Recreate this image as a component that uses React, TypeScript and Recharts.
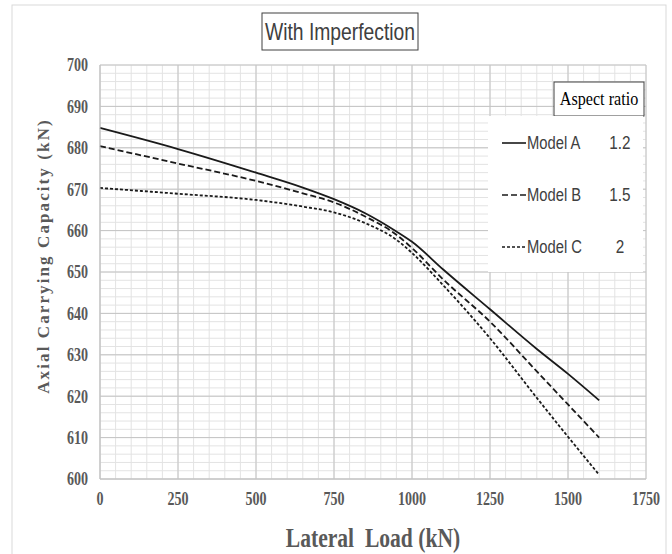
import React from "react";
import { LineChart, Line, XAxis, YAxis, CartesianGrid, Legend, Customized } from "recharts";

const loads = [0, 250, 500, 650, 750, 850, 950, 1000, 1100, 1250, 1400, 1500, 1600];
const modelA = [684.8, 679.7, 674.0, 670.4, 667.6, 664.2, 659.8, 657.3, 650.6, 641.0, 631.4, 625.4, 619.0];
const modelB = [680.4, 676.2, 672.0, 669.0, 666.8, 663.4, 659.0, 655.8, 648.2, 638.0, 626.0, 618.0, 610.0];
const modelC = [670.3, 668.9, 667.4, 665.8, 664.4, 661.8, 657.8, 654.6, 646.8, 634.0, 619.6, 610.2, 601.0];

const seriesNames = ["Model A", "Model B", "Model C"];
const aspectRatios = ["1.2", "1.5", "2"];
const dashes = ["", "6 3", "3 2"];

const xTicks = [0, 250, 500, 750, 1000, 1250, 1500, 1750];
const yTicks = [600, 610, 620, 630, 640, 650, 660, 670, 680, 690, 700];
const xDomain = [0, 1750];
const yDomain = [600, 700];
const xMinorStep = 50;
const yMinorStep = 2;

const data = loads.map((l, i) => ({
  load: l,
  a: modelA[i],
  b: modelB[i],
  c: modelC[i],
}));
const keys = ["a", "b", "c"];

const range = (lo: number, hi: number, step: number) => {
  const out: number[] = [];
  for (let v = lo; v <= hi + 1e-9; v += step) out.push(v);
  return out;
};

const serif = "'Liberation Serif', 'Times New Roman', serif";
const narrow = "'Liberation Sans Narrow', 'Arial Narrow', 'Liberation Sans', sans-serif";

const makeVGen = (vals: number[]) => (args: any) => {
  const { xAxis, offset } = args;
  return vals.map((v) =>
    xAxis && typeof xAxis.scale === "function"
      ? xAxis.scale(v)
      : offset.left + ((v - xDomain[0]) / (xDomain[1] - xDomain[0])) * offset.width
  );
};
const makeHGen = (vals: number[]) => (args: any) => {
  const { yAxis, offset } = args;
  return vals.map((v) =>
    yAxis && typeof yAxis.scale === "function"
      ? yAxis.scale(v)
      : offset.top + (1 - (v - yDomain[0]) / (yDomain[1] - yDomain[0])) * offset.height
  );
};

const XTick = (props: any) => {
  const { x, y, payload } = props;
  return (
    <text
      transform={`translate(${x},${y}) scale(0.78,1)`}
      textAnchor="middle"
      dy="0.71em"
      fontFamily={serif}
      fontWeight="bold"
      fontSize={18}
      fill="#595959"
    >
      {payload.value}
    </text>
  );
};

const YTick = (props: any) => {
  const { x, y, payload } = props;
  return (
    <text
      transform={`translate(${x},${y}) scale(0.78,1)`}
      textAnchor="end"
      dy="0.35em"
      fontFamily={serif}
      fontWeight="bold"
      fontSize={18}
      fill="#595959"
    >
      {payload.value}
    </text>
  );
};

const Decor = () => (
  <g>
    <rect x={12} y={5} width={654} height={600} fill="none" stroke="#d9d9d9" />
    <rect x={262} y={13} width={156} height={37} fill="#fff" stroke="#404040" strokeWidth={1} />
    <text
      transform="translate(340,32) scale(0.84,1)"
      textAnchor="middle"
      dominantBaseline="central"
      fontFamily={narrow}
      fontSize={23}
      fill="#404040"
    >
      With Imperfection
    </text>
    <text
      x={43}
      y={256}
      transform="rotate(-90, 43, 256)"
      textAnchor="middle"
      dominantBaseline="central"
      fontFamily={serif}
      fontWeight="bold"
      fontSize={17}
      letterSpacing={2.1}
      fill="#595959"
    >
      Axial Carrying Capacity (kN)
    </text>
    <text
      transform="translate(373,538) scale(0.8,1)"
      textAnchor="middle"
      dominantBaseline="central"
      fontFamily={serif}
      fontWeight="bold"
      fontSize={27}
      fill="#595959"
    >
      {"Lateral\u00a0 Load (kN)"}
    </text>
    <rect x={554} y={82} width={90} height={34} fill="#fff" stroke="#404040" strokeWidth={1} />
    <text
      transform="translate(599,99) scale(0.85,1)"
      textAnchor="middle"
      dominantBaseline="central"
      fontFamily={serif}
      fontSize={19}
      fill="#000"
    >
      Aspect ratio
    </text>
  </g>
);

const LegendBox = (props: any) => {
  const payload = props.payload || [];
  return (
    <div style={{ background: "#fff", width: 155, height: 156, paddingTop: 1, boxSizing: "border-box" }}>
      {payload.map((p: any, i: number) => {
        const idx = keys.indexOf(p.dataKey);
        return (
          <div
            key={i}
            style={{ height: 52, display: "flex", alignItems: "center", position: "relative", fontFamily: narrow, fontSize: 18, color: "#404040" }}
          >
            <svg width={24} height={10} style={{ marginLeft: 14, marginRight: 1 }}>
              <line x1={0} y1={5} x2={24} y2={5} stroke="#1a1a1a" strokeWidth={1.6} strokeDasharray={dashes[idx] || undefined} />
            </svg>
            <span style={{ display: "inline-block", transform: "scaleX(0.82)", transformOrigin: "left center" }}>{seriesNames[idx]}</span>
            <span style={{ position: "absolute", left: 132, transform: "translateX(-50%) scaleX(0.85)" }}>{aspectRatios[idx]}</span>
          </div>
        );
      })}
    </div>
  );
};

export default function App() {
  return (
    <div style={{ position: "absolute", left: 0, top: 0, width: 672, height: 554, background: "#fff" }}>
      <LineChart width={672} height={554} data={data} margin={{ top: 65, right: 26, bottom: 0, left: 0 }}>
        <Customized component={Decor} />
        <CartesianGrid
          stroke="#e3e3e3"
          strokeWidth={1}
          verticalCoordinatesGenerator={makeVGen(range(xDomain[0], xDomain[1], xMinorStep))}
          horizontalCoordinatesGenerator={makeHGen(range(yDomain[0], yDomain[1], yMinorStep))}
        />
        <CartesianGrid
          stroke="#c4c4c4"
          strokeWidth={1}
          verticalCoordinatesGenerator={makeVGen(xTicks)}
          horizontalCoordinatesGenerator={makeHGen(yTicks)}
        />
        <XAxis
          dataKey="load"
          type="number"
          domain={xDomain}
          ticks={xTicks}
          height={75}
          tickSize={0}
          tickMargin={13}
          axisLine={{ stroke: "#c4c4c4" }}
          tick={<XTick />}
          interval={0}
        />
        <YAxis
          type="number"
          domain={yDomain}
          ticks={yTicks}
          width={100}
          tickSize={0}
          tickMargin={12}
          axisLine={{ stroke: "#c4c4c4" }}
          tick={<YTick />}
          interval={0}
        />
        {keys.map((k, i) => (
          <Line
            key={k}
            type="monotone"
            dataKey={k}
            name={seriesNames[i]}
            stroke="#1a1a1a"
            strokeWidth={1.8}
            strokeDasharray={dashes[i] || undefined}
            dot={false}
            activeDot={false}
            isAnimationActive={false}
          />
        ))}
        <Legend
          layout="vertical"
          align="center"
          verticalAlign="middle"
          content={<LegendBox />}
          wrapperStyle={{ position: "absolute", left: 488, top: 116, width: 155, height: 156 }}
        />
      </LineChart>
    </div>
  );
}
